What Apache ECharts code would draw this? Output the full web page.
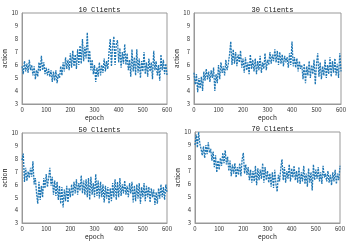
<!DOCTYPE html>
<html><head><meta charset="utf-8">
<script src="https://cdn.jsdelivr.net/npm/echarts@6/dist/echarts.min.js"></script>
<style>html,body{margin:0;padding:0;background:#fff}#c{width:350px;height:245px}</style>
</head><body><div id="c"></div>
<script>
const titles = ["10 Clients", "30 Clients", "50 Clients", "70 Clients"];
const xTicks = [0, 100, 200, 300, 400, 500, 600];
const yTicks = [3, 4, 5, 6, 7, 8, 9, 10];
const epochs = Array.from({length: 121}, (_, i) => i * 5);

const clients10 = [5.9,5.3,6.3,5.5,6.1,5.4,6.4,5.6,6.0,5.2,5.9,4.9,5.6,5.1,6.2,5.5,6.7,5.6,6.2,5.3,
5.8,5.2,5.7,5.1,5.6,4.7,5.5,4.8,5.6,4.6,5.3,5.0,5.9,5.2,6.2,5.5,6.6,5.7,6.4,5.6,
6.9,5.8,7.1,5.9,6.8,5.7,7.2,6.0,7.5,6.1,8.0,6.3,7.4,6.5,8.5,6.2,7.1,5.6,6.4,5.3,
6.0,4.7,5.8,5.1,6.2,5.2,6.0,5.4,6.5,5.5,6.3,5.7,7.0,8.0,5.9,7.4,8.2,6.0,7.6,7.9,
6.2,7.3,5.8,7.0,6.1,7.6,6.0,6.9,5.6,6.4,5.1,7.2,5.5,6.6,5.2,7.2,5.4,6.5,5.0,6.3,
5.5,7.0,5.3,6.2,5.1,6.5,5.5,6.2,4.9,7.1,5.6,6.3,5.2,6.0,4.8,6.8,5.6,6.4,5.3,6.1,5.2];
const clients30 = [5.4,4.5,5.3,3.9,5.0,4.2,5.1,4.0,5.5,4.8,5.7,4.9,5.5,4.7,5.6,5.0,5.8,4.0,5.3,4.6,
6.0,4.9,6.2,5.4,5.9,5.2,6.4,5.6,6.1,6.8,7.8,6.0,7.2,6.1,7.0,5.9,6.8,6.2,7.1,5.8,
6.5,5.4,6.6,5.6,6.2,5.3,6.8,5.7,6.4,5.5,6.5,5.3,6.3,5.6,6.7,5.4,6.2,5.7,6.9,5.6,
6.4,6.0,7.0,6.1,6.8,6.3,7.2,6.2,7.1,6.0,7.0,6.1,6.8,5.9,6.7,6.2,6.6,5.8,6.9,6.0,
7.8,5.9,6.6,5.8,6.5,5.5,6.3,5.7,6.0,4.9,6.1,4.6,5.9,5.2,6.3,5.0,6.0,5.3,6.4,4.5,
6.1,6.9,5.1,6.2,4.9,5.9,5.2,6.4,5.0,6.0,5.3,6.6,5.1,6.3,5.4,6.5,5.2,6.1,5.0,6.9,5.5];
const clients50 = [7.9,8.4,6.2,7.3,6.3,7.0,6.5,7.3,6.6,7.8,6.0,6.5,5.3,4.5,6.2,4.8,5.9,5.0,6.5,5.7,
6.8,5.8,6.5,7.3,5.9,6.6,5.2,6.3,5.1,6.2,4.8,5.9,4.5,5.8,4.2,5.6,4.7,5.9,4.6,5.7,
5.0,6.0,5.1,6.2,5.3,6.4,5.2,6.1,5.5,6.7,5.3,6.3,5.2,6.4,5.0,6.5,4.8,6.6,5.2,6.1,
5.0,6.8,5.1,6.3,4.9,6.2,5.0,6.0,4.6,5.9,4.9,5.8,4.5,5.7,4.7,6.1,5.0,6.4,4.8,6.2,
5.0,6.5,5.1,6.0,5.3,6.3,5.2,5.9,5.0,6.1,5.3,6.2,4.6,5.9,4.7,6.0,4.9,6.1,4.5,5.8,
5.0,6.1,4.7,5.9,5.0,5.8,4.6,5.7,5.0,5.6,4.4,5.4,4.5,5.7,4.9,6.0,5.0,5.8,4.8,6.0,5.4];
const clients70 = [9.0,9.8,8.8,10.0,9.1,8.7,8.2,8.9,8.0,9.0,8.3,9.2,8.4,8.7,7.8,8.5,7.3,8.2,6.9,7.8,
7.1,8.0,7.4,8.4,7.6,8.6,7.5,8.1,7.0,7.8,6.6,7.5,6.8,7.6,6.5,7.3,6.7,7.6,6.6,7.9,
8.4,6.8,7.5,6.7,7.3,6.3,7.1,6.1,7.0,6.2,7.4,5.9,7.2,6.3,7.1,6.4,7.6,6.1,7.3,6.3,
7.0,6.1,6.8,5.8,6.9,5.7,7.1,6.0,5.4,6.7,6.2,7.2,7.9,6.3,7.3,6.1,7.0,6.4,7.5,6.2,
7.2,6.5,7.4,6.3,7.0,6.1,7.3,6.0,6.9,6.2,7.4,6.0,6.8,5.8,7.2,6.1,6.9,5.5,7.5,6.3,
7.1,6.4,7.3,6.2,6.9,6.0,7.4,6.5,6.8,6.2,7.0,6.1,6.7,5.9,6.9,6.2,7.1,6.0,6.8,6.3,7.4];
const seriesValues = [clients10, clients30, clients50, clients70];

const grids = [
  {left: 22, top: 13, width: 145, height: 91},
  {left: 194, top: 13, width: 147, height: 91},
  {left: 22, top: 133, width: 145, height: 90},
  {left: 195, top: 132, width: 145, height: 91}
];
const FONT = "Noto Sans CJK SC";
const option = {
  animation: false,
  backgroundColor: '#fff',
  title: grids.map((g, i) => ({
    text: titles[i], left: g.left + g.width / 2, top: g.top - 11, textAlign: 'center',
    textStyle: {fontSize: 7, fontWeight: 'normal', color: '#111', fontFamily: 'Liberation Mono'}
  })),
  grid: grids.map(g => Object.assign({show: true, borderColor: '#999', borderWidth: 1, backgroundColor: '#fff'}, g)),
  xAxis: grids.map((g, i) => ({
    type: 'value', gridIndex: i, min: 0, max: 600, interval: 100,
    name: 'epoch', nameLocation: 'middle', nameGap: 10,
    nameTextStyle: {fontSize: 6.5, color: '#222', fontFamily: FONT},
    axisLine: {show: true, lineStyle: {color: '#999'}}, axisTick: {show: false},
    splitLine: {show: false},
    axisLabel: {fontSize: 6, color: '#333', margin: 3, fontFamily: FONT,
      formatter: v => xTicks.includes(v) ? String(v) : ''}
  })),
  yAxis: grids.map((g, i) => ({
    type: 'value', gridIndex: i, min: 3, max: 10, interval: 1,
    name: 'action', nameLocation: 'middle', nameGap: 12,
    nameTextStyle: {fontSize: 6.5, color: '#222', fontFamily: FONT},
    axisLine: {show: true, lineStyle: {color: '#999'}}, axisTick: {show: false},
    splitLine: {show: false},
    axisLabel: {fontSize: 6, color: '#333', margin: 4, fontFamily: FONT,
      formatter: v => yTicks.includes(v) ? String(v) : ''}
  })),
  series: seriesValues.map((vals, i) => ({
    type: 'line', xAxisIndex: i, yAxisIndex: i, showSymbol: false,
    data: epochs.map((e, k) => [e, vals[k]]),
    lineStyle: {color: '#1f77b4', width: 1.3, type: [2, 1]},
    silent: true
  }))
};
echarts.init(document.getElementById('c')).setOption(option);
</script></body></html>
